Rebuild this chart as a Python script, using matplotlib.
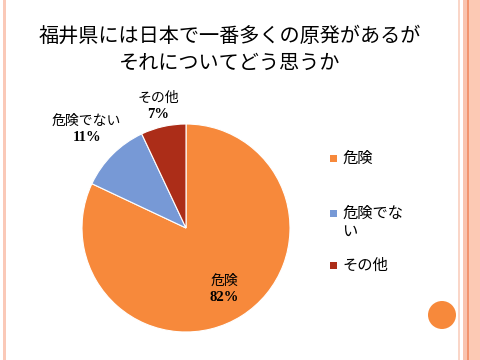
import numpy as np
import matplotlib.pyplot as plt
from matplotlib.patches import Rectangle, Circle

plt.rcParams['font.family'] = ['Noto Sans CJK JP', 'DejaVu Sans']

# Data
labels = ['危険', '危険でない', 'その他']
values = [82, 11, 7]
colors = ['#F7893B', '#7799D6', '#AC2D18']
legend_labels = ['危険', '危険でな\nい', 'その他']
label_dist = [0.69, 1.35, 1.21]

W, H = 480, 360
fig = plt.figure(figsize=(4.8, 3.6), dpi=100)

# slide decoration (vertical stripes)
def px_rect(x0, x1, color):
    fig.patches.append(Rectangle((x0 / W, 0), (x1 - x0) / W, 1, transform=fig.transFigure,
                                 color=color, lw=0, zorder=0))

px_rect(3, 6, '#FAC9B8')
px_rect(458, 460, '#FAD6C8')
px_rect(463, 467, '#F9C3AE')
px_rect(467, 468.5, '#F2946E')
px_rect(468.5, 480, '#FCC9B4')

# orange dot bottom right
cax = fig.add_axes([(442 - 15) / W, 1 - (315 + 15) / H, 30 / W, 30 / H])
cax.add_patch(Circle((0, 0), 14 / 15, color='#F7893B', lw=0))
cax.set_xlim(-1, 1)
cax.set_ylim(-1, 1)
cax.axis('off')

# title
fig.text(230 / W, 1 - 36 / H, '福井県には日本で一番多くの原発があるが', ha='center', va='center', fontsize=14.5)
fig.text(230 / W, 1 - 63 / H, 'それについてどう思うか', ha='center', va='center', fontsize=14.5)

# pie
cx, cy, r = 186, 228, 104
ax = fig.add_axes([(cx - r) / W, 1 - (cy + r) / H, 2 * r / W, 2 * r / H])
wedges, _ = ax.pie(values, colors=colors, startangle=90, counterclock=False,
                   wedgeprops=dict(edgecolor='white', linewidth=0.8))
ax.set_xlim(-1, 1)
ax.set_ylim(-1, 1)

for w, lab, v, d in zip(wedges, labels, values, label_dist):
    ang = np.deg2rad((w.theta1 + w.theta2) / 2)
    x, y = d * np.cos(ang), d * np.sin(ang)
    ax.text(x, y + 0.075, lab, ha='center', va='center', fontsize=10)
    ax.text(x, y - 0.085, f'{v}%', ha='center', va='center', fontsize=10.5,
            fontweight='bold', family='Liberation Serif')

# legend
leg_y = [158, 213, 265]
for yy, t, c in zip(leg_y, legend_labels, colors):
    fig.patches.append(Rectangle((330 / W, 1 - (yy + 4) / H), 7 / W, 7 / H,
                                 transform=fig.transFigure, color=c, lw=0))
    for i, line in enumerate(t.split('\n')):
        fig.text(342 / W, 1 - (yy + 18 * i) / H, line, ha='left', va='center', fontsize=11)

fig.savefig('out.png', dpi=100)
